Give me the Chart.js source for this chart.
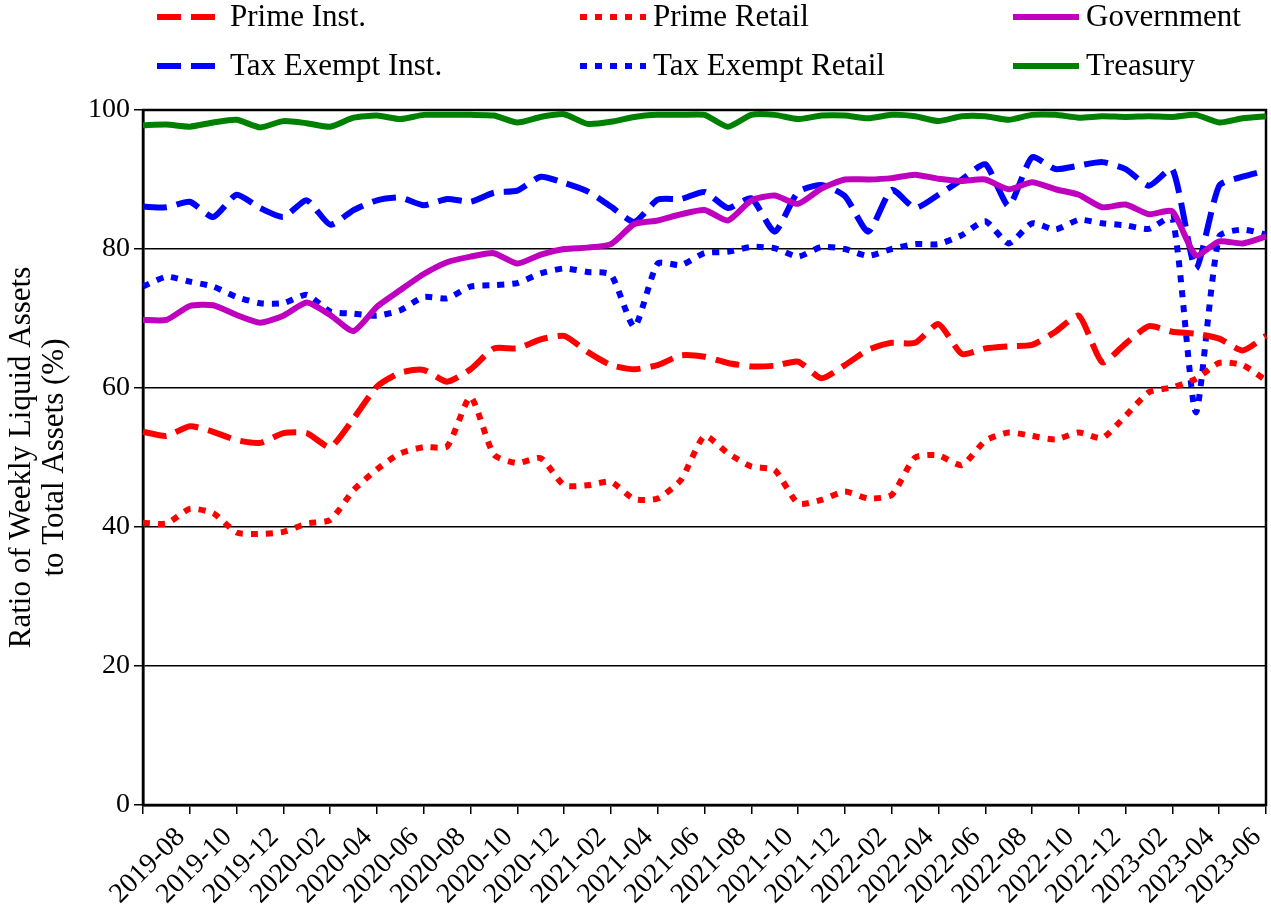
<!DOCTYPE html>
<html>
<head>
<meta charset="utf-8">
<script src="https://cdn.jsdelivr.net/npm/chart.js@4.4.6/dist/chart.umd.min.js"></script>
<style>
  html, body { margin: 0; padding: 0; background: #fff; }
  #wrap { width: 1271px; height: 913px; }
</style>
</head>
<body>
<div id="wrap"><canvas id="wla"></canvas></div>
<script>
const months = [
  "2019-06", "2019-07", "2019-08", "2019-09", "2019-10", "2019-11", "2019-12",
  "2020-01", "2020-02", "2020-03", "2020-04", "2020-05", "2020-06", "2020-07",
  "2020-08", "2020-09", "2020-10", "2020-11", "2020-12", "2021-01", "2021-02",
  "2021-03", "2021-04", "2021-05", "2021-06", "2021-07", "2021-08", "2021-09",
  "2021-10", "2021-11", "2021-12", "2022-01", "2022-02", "2022-03", "2022-04",
  "2022-05", "2022-06", "2022-07", "2022-08", "2022-09", "2022-10", "2022-11",
  "2022-12", "2023-01", "2023-02", "2023-03", "2023-04", "2023-05", "2023-06"
];

const primeInst = [
  53.7, 53.1, 54.5, 53.7, 52.5, 52.1, 53.5, 53.5, 51.5, 55.6, 60.2, 62.2, 62.6,
  60.9, 62.7, 65.7, 65.7, 67.0, 67.5, 65.2, 63.3, 62.7, 63.3, 64.7, 64.5, 63.6,
  63.1, 63.2, 63.8, 61.4, 63.3, 65.5, 66.5, 66.5, 69.2, 64.9, 65.7, 66.0, 66.2,
  68.1, 70.4, 63.7, 66.4, 68.9, 68.1, 67.8, 67.1, 65.4, 67.5
];
const primeRetail = [
  40.6, 40.5, 42.6, 42.0, 39.2, 39.0, 39.3, 40.5, 41.0, 45.3, 48.3, 50.6, 51.5,
  51.6, 58.7, 50.4, 49.2, 49.9, 46.0, 46.0, 46.5, 44.0, 44.1, 46.8, 53.1, 50.6,
  48.7, 48.2, 43.4, 43.9, 45.1, 44.1, 44.6, 50.0, 50.3, 48.9, 52.4, 53.6, 53.1,
  52.6, 53.6, 52.8, 56.0, 59.4, 60.1, 61.3, 63.6, 63.3, 61.1
];
const government = [
  69.8, 69.8, 71.8, 71.9, 70.5, 69.4, 70.4, 72.3, 70.5, 68.2, 71.7, 74.1, 76.4,
  78.1, 78.9, 79.4, 77.9, 79.2, 80.0, 80.2, 80.7, 83.6, 84.1, 85.0, 85.6, 84.1,
  87.0, 87.7, 86.5, 88.7, 90.0, 90.0, 90.2, 90.7, 90.1, 89.8, 90.0, 88.6, 89.6,
  88.6, 87.8, 86.0, 86.4, 85.0, 85.4, 79.1, 81.1, 80.8, 81.8
];
const taxExemptInst = [
  86.1, 86.0, 86.8, 84.6, 87.8, 85.9, 84.6, 87.0, 83.5, 85.6, 87.0, 87.4, 86.3,
  87.2, 86.8, 88.1, 88.4, 90.4, 89.5, 88.3, 86.1, 83.9, 87.1, 87.2, 88.2, 85.9,
  87.3, 82.5, 88.2, 89.2, 87.6, 82.5, 88.5, 85.9, 87.8, 90.0, 92.2, 86.2, 93.2,
  91.5, 92.0, 92.5, 91.5, 89.1, 91.5, 77.2, 89.1, 90.4, 91.3
];
const taxExemptRetail = [
  74.6, 76.0, 75.3, 74.6, 73.1, 72.2, 72.2, 73.4, 71.0, 70.7, 70.4, 71.2, 73.1,
  72.9, 74.6, 74.8, 75.1, 76.5, 77.2, 76.7, 76.3, 68.8, 77.9, 77.7, 79.4, 79.6,
  80.3, 80.1, 78.9, 80.3, 80.0, 79.0, 80.0, 80.7, 80.7, 82.0, 84.0, 80.8, 83.7,
  82.8, 84.2, 83.7, 83.4, 82.9, 84.5, 56.5, 81.8, 82.8, 82.1
];
const treasury = [
  97.8, 97.9, 97.6, 98.2, 98.6, 97.5, 98.4, 98.1, 97.6, 98.9, 99.2, 98.7, 99.3,
  99.3, 99.3, 99.2, 98.2, 99.0, 99.4, 98.0, 98.3, 99.0, 99.3, 99.3, 99.3, 97.6,
  99.3, 99.3, 98.7, 99.2, 99.2, 98.8, 99.3, 99.1, 98.4, 99.1, 99.1, 98.6, 99.3,
  99.3, 98.9, 99.1, 99.0, 99.1, 99.0, 99.3, 98.2, 98.8, 99.1
];

const yTicks = [0, 20, 40, 60, 80, 100];

const FONT = "'Liberation Serif', 'DejaVu Serif', serif";
const DASH = [24, 10];
const DOT = [7, 8];

function line(label, data, color, dash) {
  return {
    label, data,
    borderColor: color,
    backgroundColor: color,
    borderWidth: 6,
    borderDash: dash,
    pointRadius: 0,
    tension: 0.2,
    fill: false
  };
}

// legend laid out as a 3 x 2 grid above the plot
const gridLegend = {
  id: "gridLegend",
  afterDraw(chart) {
    const ctx = chart.ctx;
    const colX = [157, 580, 1013];
    const rowY = [17, 66];
    ctx.save();
    ctx.font = "31px " + FONT;
    ctx.textBaseline = "middle";
    ctx.fillStyle = "#000";
    chart.data.datasets.forEach((ds, i) => {
      const x = colX[i % 3], y = rowY[Math.floor(i / 3)];
      ctx.strokeStyle = ds.borderColor;
      ctx.lineWidth = 6;
      ctx.setLineDash(ds.borderDash || []);
      ctx.beginPath();
      ctx.moveTo(x, y);
      ctx.lineTo(x + 66, y);
      ctx.stroke();
      ctx.setLineDash([]);
      ctx.fillText(ds.label, x + 73, y + 1);
    });
    ctx.restore();
  }
};

// black frame round the plot area
const frame = {
  id: "frame",
  beforeDatasetsDraw(chart) {
    const { ctx, chartArea: a } = chart;
    ctx.save();
    ctx.strokeStyle = "#000";
    ctx.lineWidth = 2.5;
    ctx.strokeRect(a.left, a.top, a.right - a.left, a.bottom - a.top);
    ctx.restore();
  }
};

new Chart(document.getElementById("wla"), {
  type: "line",
  data: {
    labels: months,
    datasets: [
      line("Prime Inst.", primeInst, "#ff0000", DASH),
      line("Prime Retail", primeRetail, "#ff0000", DOT),
      line("Government", government, "#bf00bf", []),
      line("Tax Exempt Inst.", taxExemptInst, "#0000ff", DASH),
      line("Tax Exempt Retail", taxExemptRetail, "#0000ff", DOT),
      line("Treasury", treasury, "#008000", [])
    ]
  },
  options: {
    responsive: true,
    maintainAspectRatio: false,
    animation: false,
    layout: { padding: { top: 110, right: 5, left: 0, bottom: 0 } },
    plugins: {
      legend: { display: false },
      tooltip: { enabled: false }
    },
    scales: {
      x: {
        offset: false,
        border: { display: true, color: "#000", width: 2.5 },
        grid: {
          drawOnChartArea: false,
          tickLength: 9,
          lineWidth: 1.5,
          color: (c) => (c.index % 2 === 0 ? "#000" : "rgba(0,0,0,0)")
        },
        ticks: {
          autoSkip: false,
          maxRotation: 45,
          minRotation: 45,
          padding: 7,
          labelOffset: -9,
          color: "#000",
          font: { family: FONT, size: 28 },
          callback: (v, i) => (i % 2 === 0 && i > 0 ? months[i] : "")
        },
        afterFit: (s) => {
          s.height = 108;
          s.paddingLeft = 0;
          s.paddingRight = 0;
        }
      },
      y: {
        min: 0,
        max: 100,
        afterBuildTicks: (s) => { s.ticks = yTicks.map((v) => ({ value: v })); },
        border: { display: true, color: "#000", width: 2.5 },
        grid: { color: "#000", lineWidth: 1.5, tickLength: 9 },
        ticks: {
          color: "#000",
          padding: 4,
          font: { family: FONT, size: 28 }
        },
        title: {
          display: true,
          text: ["Ratio of Weekly Liquid Assets", "to Total Assets (%)"],
          color: "#000",
          font: { family: FONT, size: 31, lineHeight: 1.08 },
          padding: { top: 5, bottom: 0 }
        },
        afterFit: (s) => { s.width = 143; }
      }
    }
  },
  plugins: [gridLegend, frame]
});
</script>
</body>
</html>
